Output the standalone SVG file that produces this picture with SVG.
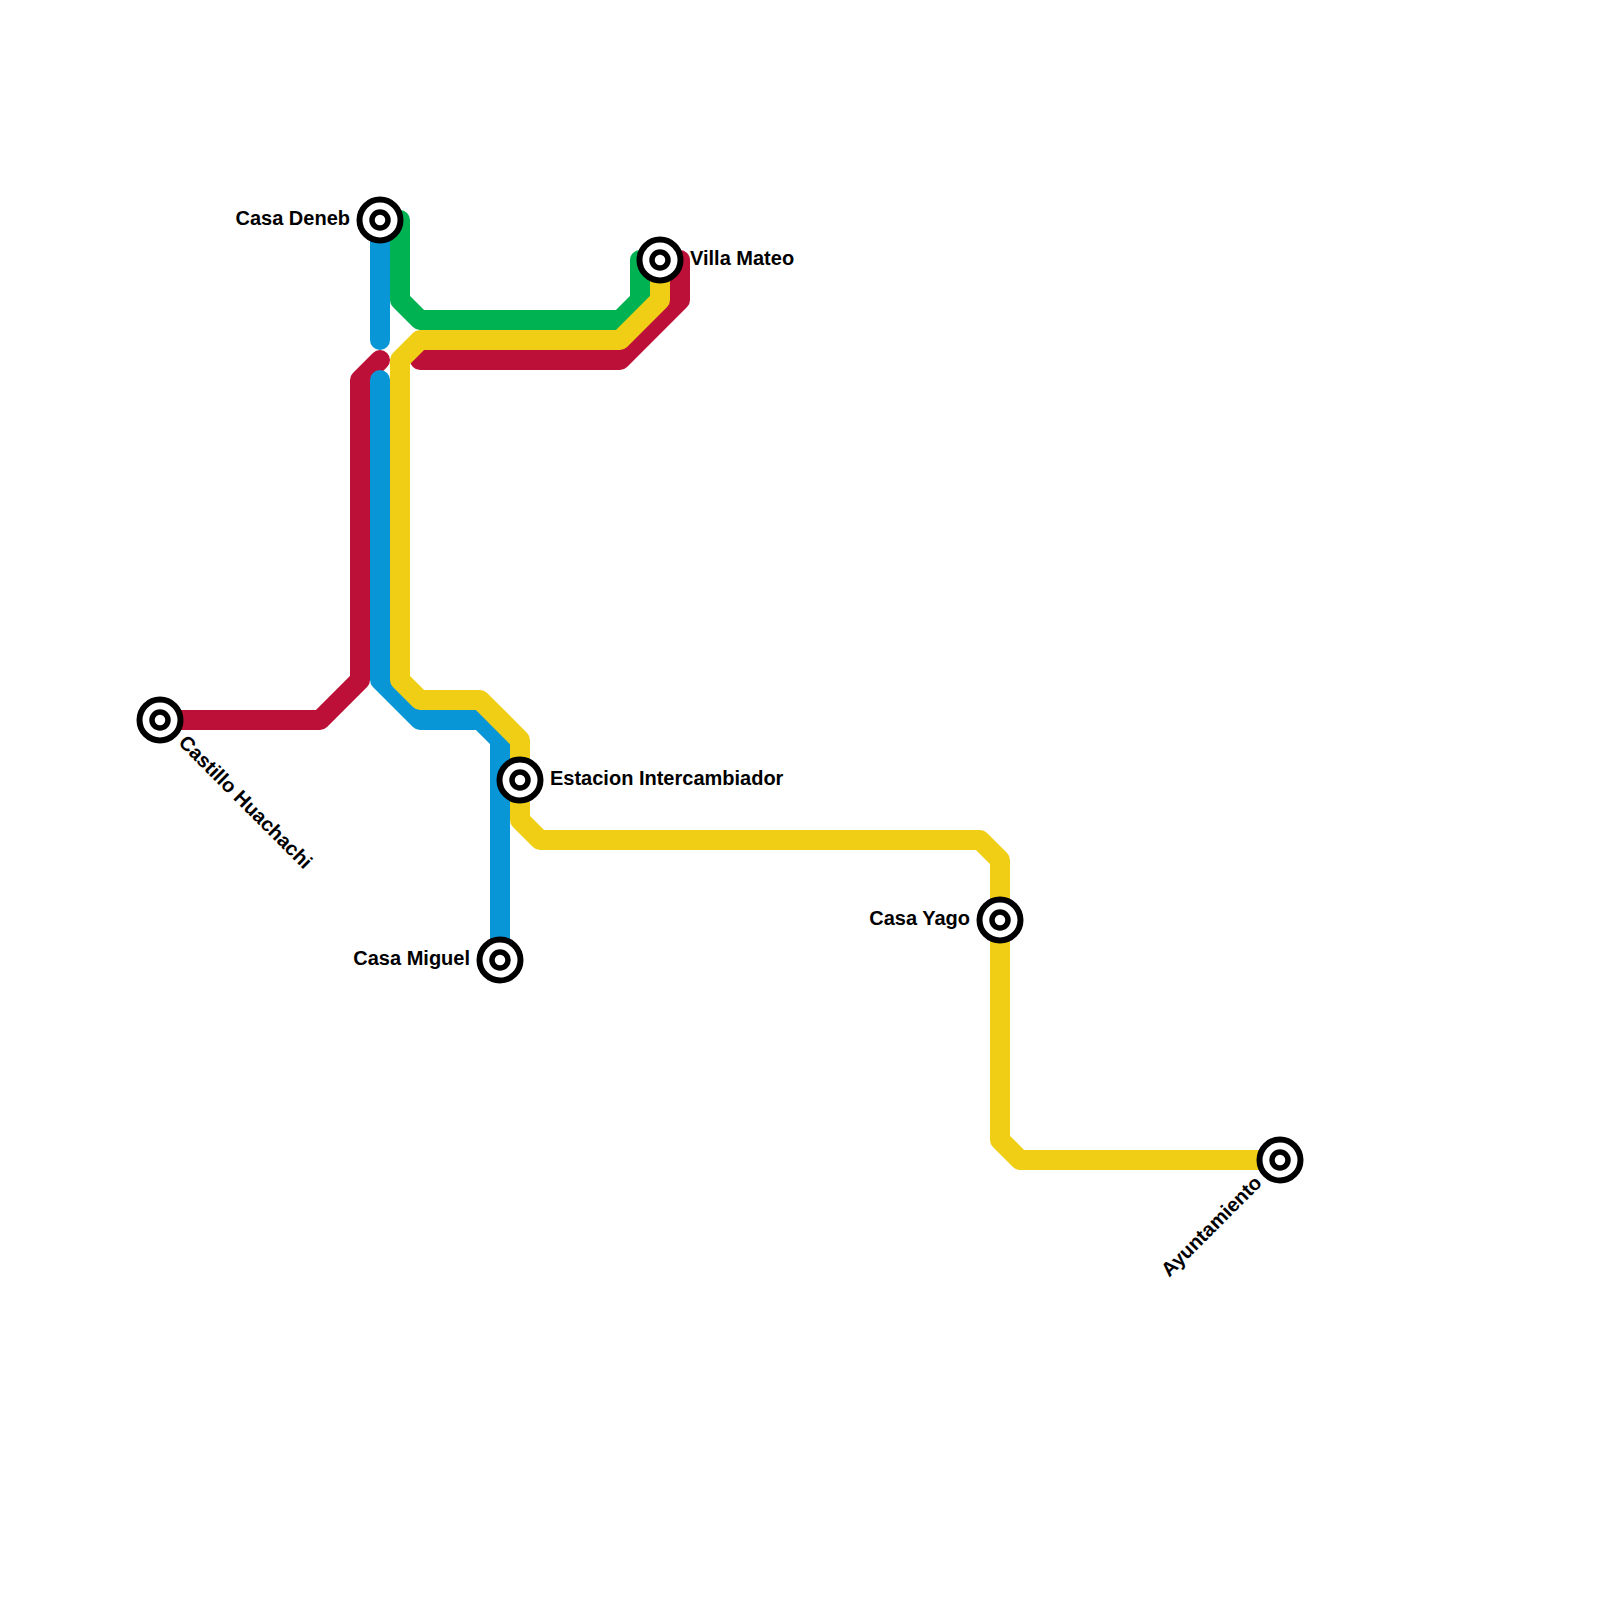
<svg xmlns="http://www.w3.org/2000/svg" width="1600" height="1600" viewBox="0 0 1600 1600">
<style>
.l{fill:none;stroke-width:20;stroke-linecap:round;stroke-linejoin:round}
.r{stroke:#bd1038}.b{stroke:#0896d7}.g{stroke:#00b251}.y{stroke:#f0ce15}
.o{fill:#fff;stroke:#000;stroke-width:6}.i{fill:#fff;stroke:#000;stroke-width:5.5}
.t{font-family:"Liberation Sans",Arial,sans-serif;font-size:20px;font-weight:700;fill:#000}
</style>
<rect width="1600" height="1600" fill="#fff"/>
<g id="connectors">
<path class="l r" d="M160 720H320L360 680V380L380 360"/>
<path class="l r" d="M420 360H620L680 300V260"/>
<path class="l b" d="M380 220V340"/>
<path class="l b" d="M380 380V680L420 720H480L500 740V960"/>
<path class="l g" d="M380 220H400V300L420 320H620L640 300V260H660"/>
<path class="l y" d="M660 260V300L620 340H420L400 360V680L420 700H480L520 740V820L540 840H980L1000 860V1140L1020 1160H1280"/>
</g>
<g id="casa-deneb"><circle class="o" cx="380" cy="220" r="20.5"/><circle class="i" cx="380" cy="220" r="8"/><text class="t" x="350" y="225" text-anchor="end">Casa Deneb</text></g>
<g id="villa-mateo"><circle class="o" cx="660" cy="260" r="20.5"/><circle class="i" cx="660" cy="260" r="8"/><text class="t" x="690" y="265">Villa Mateo</text></g>
<g id="castillo-huachachi"><circle class="o" cx="160" cy="720" r="20.5"/><circle class="i" cx="160" cy="720" r="8"/><text class="t" transform="translate(177.5 743.5) rotate(45)">Castillo Huachachi</text></g>
<g id="estacion-intercambiador"><circle class="o" cx="520" cy="780" r="20.5"/><circle class="i" cx="520" cy="780" r="8"/><text class="t" x="550" y="785">Estacion Intercambiador</text></g>
<g id="casa-miguel"><circle class="o" cx="500" cy="960" r="20.5"/><circle class="i" cx="500" cy="960" r="8"/><text class="t" x="470" y="965" text-anchor="end">Casa Miguel</text></g>
<g id="casa-yago"><circle class="o" cx="1000" cy="920" r="20.5"/><circle class="i" cx="1000" cy="920" r="8"/><text class="t" x="970" y="925" text-anchor="end">Casa Yago</text></g>
<g id="ayuntamiento"><circle class="o" cx="1280" cy="1160" r="20.5"/><circle class="i" cx="1280" cy="1160" r="8"/><text class="t" transform="translate(1263 1184) rotate(-45)" text-anchor="end">Ayuntamiento</text></g>
</svg>
